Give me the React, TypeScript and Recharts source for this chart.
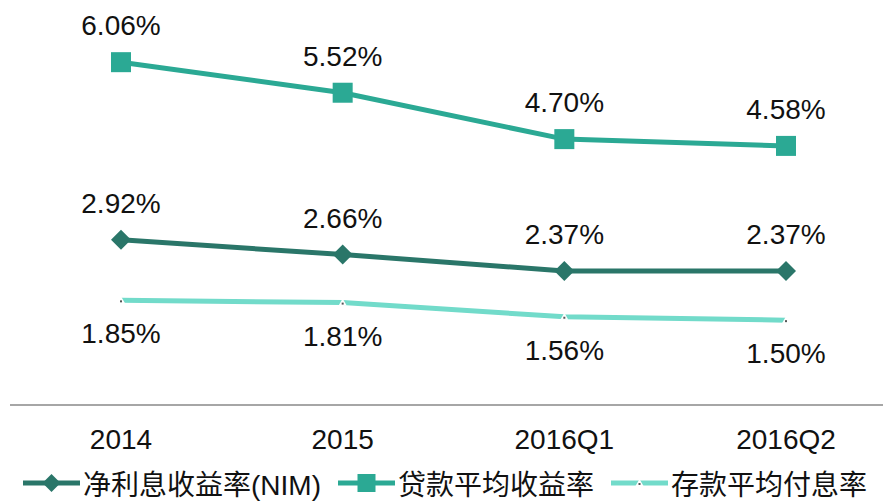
import React from "react";
import { LineChart, Line, XAxis, YAxis, Legend, LabelList } from "recharts";

const periods = ["2014", "2015", "2016Q1", "2016Q2"];
const nim = [2.92, 2.66, 2.37, 2.37];
const loanYield = [6.06, 5.52, 4.7, 4.58];
const depositCost = [1.85, 1.81, 1.56, 1.5];
const legendOrder = ["nim", "loan", "deposit"];

const data = periods.map((p, i) => ({
  period: p,
  nim: nim[i],
  loan: loanYield[i],
  deposit: depositCost[i],
}));

const FONT = '"Liberation Sans", Arial, "Noto Sans CJK SC", sans-serif';
const NIM_COLOR = "#2a7669";
const LOAN_COLOR = "#2ba994";
const DEP_COLOR = "#72dbca";

const Diamond = ({ cx, cy, size = 10, fill }: any) => (
  <polygon
    points={`${cx},${cy - size} ${cx + size},${cy} ${cx},${cy + size} ${cx - size},${cy}`}
    fill={fill}
  />
);

const Square = ({ cx, cy, size = 10, fill }: any) => (
  <rect x={cx - size} y={cy - size} width={size * 2} height={size * 2} fill={fill} />
);

const Notch = ({ cx, cy }: any) => (
  <g>
    <polygon points={`${cx},${cy - 4} ${cx + 4},${cy + 3} ${cx - 4},${cy + 3}`} fill="#ffffff" />
    <rect x={cx - 1} y={cy} width={2} height={2} fill="#555" />
  </g>
);

const labelAbove = (props: any) => {
  const { x, y, value } = props;
  return (
    <text x={x} y={y - 27} textAnchor="middle" fontSize={28} fill="#111" fontFamily={FONT}>
      {value.toFixed(2)}%
    </text>
  );
};

const labelBelow = (props: any) => {
  const { x, y, value } = props;
  return (
    <text x={x} y={y + 43} textAnchor="middle" fontSize={28} fill="#111" fontFamily={FONT}>
      {value.toFixed(2)}%
    </text>
  );
};

const legendIcon = (key: string, color: string) => (
  <svg width={57} height={24} style={{ display: "block" }}>
    <line x1={0} y1={12} x2={57} y2={12} stroke={color} strokeWidth={5} />
    {key === "nim" && <Diamond cx={28.5} cy={12} size={9} fill={color} />}
    {key === "loan" && <Square cx={28.5} cy={12} size={9} fill={color} />}
    {key === "deposit" && <Notch cx={28.5} cy={12} />}
  </svg>
);

const renderLegend = (props: any) => {
  const items = [...(props.payload || [])].sort(
    (a: any, b: any) => legendOrder.indexOf(a.dataKey) - legendOrder.indexOf(b.dataKey)
  );
  return (
    <div
      style={{
        display: "flex",
        alignItems: "center",
        height: 40,
        paddingLeft: 23,
        fontFamily: FONT,
        fontSize: 28,
        color: "#111",
      }}
    >
      {items.map((entry: any) => (
        <div key={entry.dataKey} style={{ display: "flex", alignItems: "center", marginRight: 17 }}>
          {legendIcon(entry.dataKey, entry.color)}
          <span style={{ marginLeft: 3, whiteSpace: "nowrap" }}>{entry.value}</span>
        </div>
      ))}
    </div>
  );
};

export default function App() {
  return (
    <div style={{ position: "absolute", left: 0, top: 0, width: 883, height: 503, background: "#fff", fontFamily: FONT }}>
      <LineChart width={883} height={503} data={data} margin={{ top: 9, right: 0, left: 10, bottom: 0 }}>
        <XAxis
          dataKey="period"
          padding={{ left: 111, right: 97 }}
          axisLine={{ stroke: "#a6a6a6", strokeWidth: 2 }}
          tickLine={false}
          tickSize={0}
          tickMargin={24}
          height={58}
          tick={{ fontSize: 28, fill: "#111", fontFamily: FONT }}
        />
        <YAxis hide domain={[0, 7]} />
        <Legend verticalAlign="bottom" content={renderLegend} wrapperStyle={{ left: 0, width: 883 }} />
        <Line
          dataKey="nim"
          name="净利息收益率(NIM)"
          stroke={NIM_COLOR}
          strokeWidth={5}
          isAnimationActive={false}
          dot={(p: any) => <Diamond key={p.index} cx={p.cx} cy={p.cy} size={10} fill={NIM_COLOR} />}
          activeDot={false}
        >
          <LabelList dataKey="nim" content={labelAbove} />
        </Line>
        <Line
          dataKey="loan"
          name="贷款平均收益率"
          stroke={LOAN_COLOR}
          strokeWidth={5}
          isAnimationActive={false}
          dot={(p: any) => <Square key={p.index} cx={p.cx} cy={p.cy} size={10} fill={LOAN_COLOR} />}
          activeDot={false}
        >
          <LabelList dataKey="loan" content={labelAbove} />
        </Line>
        <Line
          dataKey="deposit"
          name="存款平均付息率"
          stroke={DEP_COLOR}
          strokeWidth={5}
          isAnimationActive={false}
          dot={(p: any) => <Notch key={p.index} cx={p.cx} cy={p.cy} />}
          activeDot={false}
        >
          <LabelList dataKey="deposit" content={labelBelow} />
        </Line>
      </LineChart>
    </div>
  );
}
